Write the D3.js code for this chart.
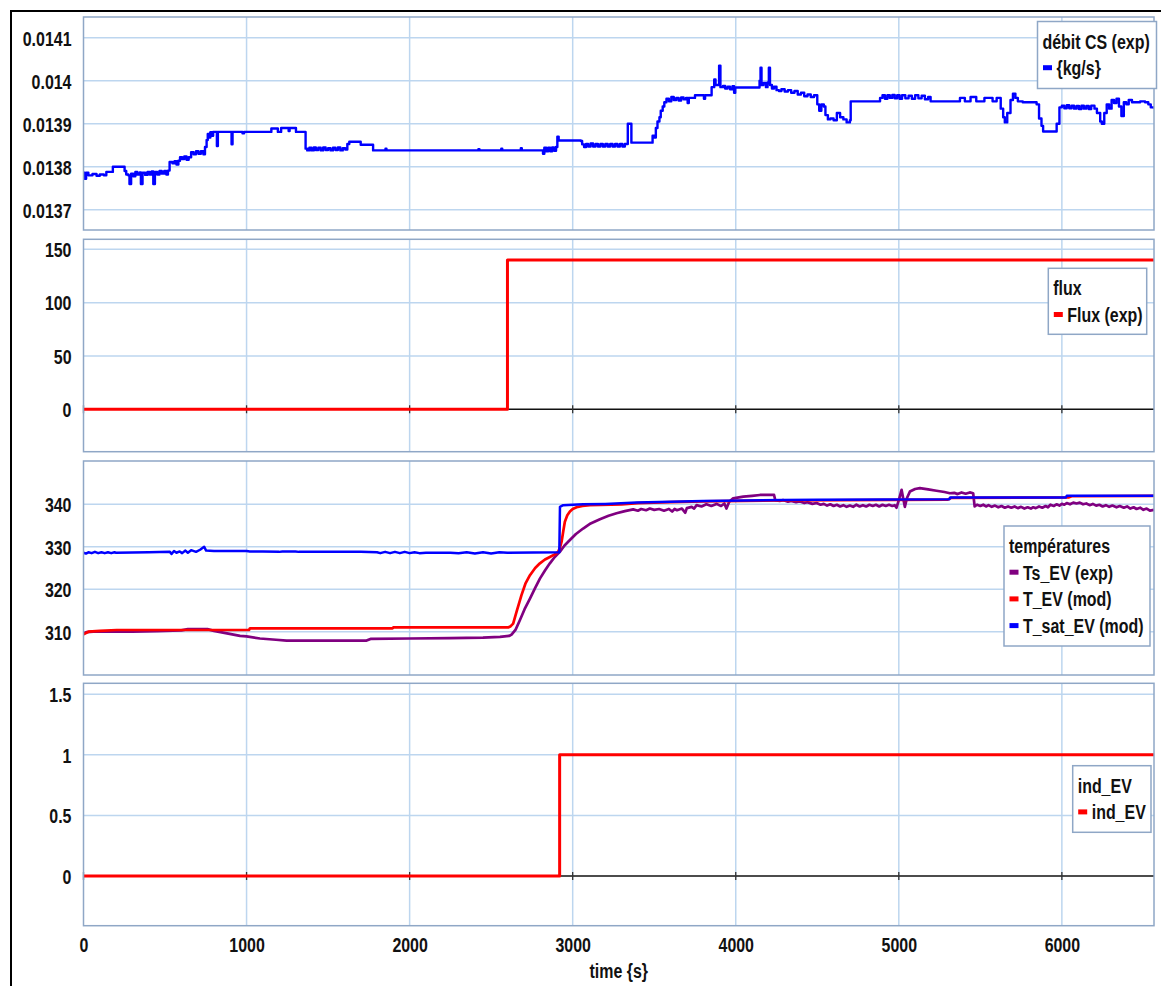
<!DOCTYPE html>
<html>
<head>
<meta charset="utf-8">
<script src="https://cdn.jsdelivr.net/npm/d3@7"></script>
<style>
  body { margin: 0; background: #fff; }
  svg text {
    font-family: "Liberation Sans", Arial, sans-serif;
    font-weight: bold;
    fill: #111;
  }
</style>
</head>
<body>
<svg id="chart" width="1161" height="986"></svg>
<script>
// ---- axis ticks ----
const timeTicks = [0, 1000, 2000, 3000, 4000, 5000, 6000];
const debitTicks = [0.0137, 0.0138, 0.0139, 0.014, 0.0141];
const fluxTicks = [0, 50, 100, 150];
const tempTicks = [310, 320, 330, 340];
const indTicks = [0, 0.5, 1, 1.5];

// ---- series: [time (s), value] ----
const debitCS = [
  [0,0.013786],[8,0.013772],[16,0.013786],[30,0.013780],[55,0.013783],[80,0.013779],[100,0.013782],[125,0.013780],
  [140,0.013788],[175,0.013788],[180,0.013800],[245,0.013800],[252,0.013790],[262,0.013782],[275,0.013780],[282,0.013760],
  [292,0.013784],[305,0.013778],[318,0.013788],[330,0.013782],[345,0.013787],[352,0.013760],[362,0.013786],[378,0.013781],
  [392,0.013788],[405,0.013782],[418,0.013789],[428,0.013760],[438,0.013788],[452,0.013782],[466,0.013790],[480,0.013784],
  [495,0.013790],[508,0.013782],[518,0.013791],[528,0.013811],[545,0.013808],[558,0.013813],[570,0.013805],[582,0.013814],
  [592,0.013822],[605,0.013818],[618,0.013824],[632,0.013816],[645,0.013822],[660,0.013834],[675,0.013829],[690,0.013836],
  [705,0.013830],[720,0.013836],[735,0.013829],[745,0.013846],[755,0.013862],[762,0.013876],[770,0.013868],[778,0.013880],
  [788,0.013872],[795,0.013881],[815,0.013881],[818,0.013848],[824,0.013881],[905,0.013881],[908,0.013852],[914,0.013881],
  [975,0.013878],[985,0.013881],[1150,0.013881],[1152,0.013889],[1188,0.013889],[1192,0.013881],[1208,0.013881],[1212,0.013890],
  [1255,0.013890],[1258,0.013883],[1264,0.013890],[1300,0.013890],[1303,0.013881],[1355,0.013881],[1362,0.013842],[1372,0.013838],
  [1385,0.013844],[1398,0.013838],[1412,0.013845],[1425,0.013839],[1440,0.013844],[1455,0.013838],[1470,0.013845],[1485,0.013839],
  [1500,0.013843],[1515,0.013838],[1530,0.013844],[1545,0.013839],[1560,0.013845],[1575,0.013838],[1590,0.013843],[1605,0.013840],
  [1618,0.013853],[1630,0.013858],[1690,0.013858],[1700,0.013851],[1770,0.013851],[1776,0.013838],[1850,0.013838],[1852,0.013842],
  [1858,0.013838],[2420,0.013838],[2422,0.013841],[2428,0.013838],[2560,0.013838],[2562,0.013842],[2568,0.013838],[2680,0.013838],
  [2682,0.013843],[2688,0.013838],[2810,0.013838],[2818,0.013830],[2826,0.013844],[2838,0.013836],[2850,0.013844],[2862,0.013836],
  [2874,0.013845],[2886,0.013837],[2898,0.013846],[2906,0.013870],[2914,0.013861],[3050,0.013860],[3058,0.013852],[3070,0.013846],
  [3082,0.013853],[3095,0.013847],[3110,0.013854],[3125,0.013847],[3140,0.013853],[3155,0.013847],[3170,0.013853],[3185,0.013847],
  [3200,0.013853],[3215,0.013847],[3230,0.013853],[3245,0.013847],[3260,0.013853],[3275,0.013847],[3290,0.013853],[3305,0.013847],
  [3320,0.013853],[3338,0.013900],[3360,0.013856],[3480,0.013856],[3490,0.013872],[3500,0.013868],[3510,0.013890],[3520,0.013905],
  [3532,0.013915],[3540,0.013930],[3552,0.013940],[3562,0.013950],[3575,0.013958],[3590,0.013952],[3605,0.013962],[3620,0.013955],
  [3635,0.013960],[3650,0.013954],[3665,0.013961],[3680,0.013957],[3695,0.013960],[3705,0.013948],[3712,0.013960],[3750,0.013966],
  [3800,0.013966],[3805,0.013958],[3812,0.013966],[3852,0.013985],[3868,0.014003],[3876,0.013990],[3898,0.014035],[3906,0.013985],
  [3922,0.013988],[3935,0.013982],[3950,0.013986],[3965,0.013980],[3980,0.013987],[3990,0.013972],[3997,0.013984],[4140,0.013984],
  [4146,0.014000],[4152,0.014030],[4158,0.013990],[4170,0.013995],[4185,0.013985],[4195,0.013996],[4203,0.014030],[4210,0.013990],
  [4222,0.013982],[4235,0.013986],[4250,0.013978],[4265,0.013976],[4280,0.013980],[4300,0.013975],[4320,0.013978],[4340,0.013972],
  [4360,0.013976],[4380,0.013968],[4400,0.013972],[4420,0.013964],[4440,0.013968],[4460,0.013962],[4480,0.013966],[4500,0.013945],
  [4512,0.013930],[4525,0.013945],[4540,0.013940],[4550,0.013920],[4565,0.013910],[4580,0.013912],[4600,0.013908],[4620,0.013925],
  [4640,0.013915],[4660,0.013910],[4680,0.013903],[4700,0.013908],[4705,0.013952],[4880,0.013952],[4885,0.013960],[4900,0.013966],
  [4915,0.013958],[4930,0.013966],[4945,0.013960],[4960,0.013967],[4975,0.013959],[4990,0.013966],[5005,0.013958],[5020,0.013966],
  [5040,0.013959],[5060,0.013965],[5080,0.013958],[5100,0.013966],[5120,0.013959],[5140,0.013965],[5160,0.013957],[5180,0.013962],
  [5195,0.013952],[5370,0.013952],[5375,0.013960],[5400,0.013960],[5405,0.013952],[5430,0.013952],[5440,0.013962],[5465,0.013962],
  [5475,0.013952],[5525,0.013960],[5560,0.013960],[5575,0.013952],[5600,0.013960],[5625,0.013935],[5640,0.013915],[5650,0.013903],
  [5665,0.013925],[5685,0.013955],[5700,0.013970],[5715,0.013960],[5730,0.013952],[5760,0.013950],[5845,0.013945],[5860,0.013912],
  [5875,0.013895],[5885,0.013882],[5960,0.013882],[5968,0.013900],[5985,0.013938],[6000,0.013942],[6015,0.013936],[6030,0.013943],
  [6045,0.013936],[6060,0.013942],[6075,0.013935],[6090,0.013941],[6105,0.013934],[6120,0.013942],[6135,0.013935],[6150,0.013941],
  [6165,0.013934],[6180,0.013942],[6200,0.013935],[6215,0.013925],[6235,0.013905],[6245,0.013900],[6260,0.013925],[6275,0.013945],
  [6290,0.013935],[6305,0.013955],[6320,0.013948],[6335,0.013958],[6350,0.013940],[6365,0.013918],[6380,0.013950],[6395,0.013945],
  [6410,0.013955],[6430,0.013950],[6480,0.013952],[6510,0.013950],[6530,0.013945],[6545,0.013938],[6565,0.013935]
];

const fluxExp = [[0, 0], [2600, 0], [2600, 140], [6565, 140]];

const tsEV = [
  [0,309.6],[20,309.9],[60,310.0],[150,310.0],[300,310.0],[450,310.1],[600,310.3],[640,310.6],[760,310.6],[800,310.2],
  [880,309.6],[960,309.0],[1000,308.9],[1082,308.4],[1180,308.1],[1246,307.9],[1500,307.9],[1736,307.9],[1760,308.3],
  [2000,308.4],[2247,308.5],[2450,308.6],[2554,308.8],[2610,309.0],[2625,309.3],[2650,310.5],[2676,312.7],[2705,315.3],
  [2738,317.8],[2770,320.3],[2799,322.5],[2830,324.4],[2860,326.1],[2890,327.6],[2921,328.8],[2950,330.3],[2983,331.6],
  [3020,333.0],[3064,334.3],[3110,335.5],[3167,336.5],[3220,337.3],[3269,337.9],[3320,338.4],[3371,338.8],[3400,338.5],
  [3420,338.9],[3450,338.6],[3473,339.0],[3500,338.7],[3530,338.9],[3560,338.5],[3590,338.9],[3610,338.3],[3625,338.9],
  [3640,338.6],[3670,339.0],[3690,338.0],[3700,339.1],[3730,339.4],[3745,339.0],[3760,339.8],[3790,339.5],[3820,340.0],
  [3850,339.6],[3882,340.1],[3910,339.6],[3930,340.2],[3943,339.0],[3960,340.6],[3984,341.4],[4046,341.8],[4100,342.0],
  [4148,342.2],[4235,342.2],[4242,341.0],[4270,340.8],[4290,341.0],[4320,340.6],[4340,340.8],[4370,340.5],[4390,340.7],
  [4420,340.3],[4440,340.5],[4470,340.1],[4496,340.3],[4520,339.9],[4540,340.1],[4560,339.7],[4580,340.0],[4600,339.6],
  [4620,339.9],[4640,339.5],[4660,339.8],[4680,339.4],[4700,339.7],[4720,339.4],[4740,339.9],[4760,339.5],[4780,339.8],
  [4800,339.5],[4820,339.9],[4840,339.6],[4860,339.9],[4880,339.5],[4900,339.9],[4920,339.6],[4940,339.9],[4960,339.6],
  [4975,339.8],[4986,339.2],[5000,341.0],[5017,343.4],[5028,341.2],[5037,339.4],[5050,341.5],[5068,343.0],[5100,343.6],
  [5129,343.8],[5180,343.5],[5231,343.2],[5280,342.9],[5313,342.6],[5340,342.7],[5360,342.4],[5385,342.8],[5410,342.5],
  [5435,342.8],[5456,342.6],[5465,339.5],[5480,339.9],[5500,339.6],[5518,339.9],[5535,339.5],[5550,339.8],[5570,339.4],
  [5590,339.7],[5610,339.3],[5630,339.6],[5650,339.2],[5670,339.5],[5690,339.2],[5710,339.5],[5730,339.1],[5750,339.4],
  [5770,339.0],[5790,339.3],[5810,339.0],[5824,339.3],[5840,339.1],[5860,339.5],[5880,339.2],[5900,339.6],[5915,339.3],
  [5930,339.9],[5950,339.6],[5967,340.0],[5985,339.7],[6000,340.1],[6015,339.9],[6030,340.3],[6050,340.0],[6070,340.4],
  [6090,340.2],[6110,340.4],[6130,340.0],[6150,340.2],[6170,339.8],[6190,340.1],[6210,339.7],[6230,339.9],[6250,339.5],
  [6270,339.8],[6290,339.4],[6310,339.7],[6335,339.3],[6355,339.6],[6380,339.2],[6400,339.5],[6420,339.0],[6440,339.3],
  [6458,338.9],[6480,339.2],[6500,338.7],[6520,339.0],[6540,338.5],[6565,338.7]
];

const tEV = [
  [0,309.4],[30,310.0],[100,310.2],[204,310.4],[1015,310.4],[1021,310.8],[1895,310.8],[1900,311.0],[2604,311.0],
  [2620,311.3],[2635,311.9],[2656,314.7],[2686,318.6],[2710,321.3],[2738,323.3],[2770,325.0],[2799,326.1],[2830,327.0],
  [2860,327.6],[2890,328.2],[2911,328.8],[2922,329.8],[2932,331.2],[2942,333.6],[2952,335.9],[2967,337.4],[2983,338.3],
  [3000,338.9],[3024,339.3],[3060,339.6],[3106,339.8],[3300,340.0],[3400,340.3],[3600,340.5],[3800,340.7],[4300,340.9],
  [5300,341.1],[5320,341.5],[6040,341.6],[6060,341.9],[6565,342.0]
];

const tSatEV = [
  [0,328.6],[15,328.4],[30,328.7],[50,328.5],[70,328.8],[90,328.5],[110,328.7],[130,328.5],[150,328.7],[170,328.5],
  [190,328.7],[200,328.6],[400,328.7],[530,328.8],[540,328.3],[555,329.0],[570,328.6],[590,328.9],[605,328.5],[625,329.1],
  [640,328.6],[660,329.2],[690,328.8],[715,329.3],[740,330.0],[752,329.1],[800,329.0],[1000,329.0],[1020,328.9],[1100,328.9],
  [1200,328.8],[1220,328.9],[1300,328.9],[1320,328.8],[1700,328.8],[1800,328.7],[1820,328.5],[1850,328.8],[1880,328.5],
  [1910,328.8],[1940,328.5],[1970,328.8],[2000,328.5],[2030,328.7],[2060,328.5],[2100,328.6],[2250,328.6],[2300,328.5],
  [2350,328.7],[2400,328.4],[2450,328.7],[2500,328.4],[2550,328.7],[2600,328.6],[2918,328.7],[2922,339.4],[2942,339.8],
  [3064,340.0],[3200,340.1],[3392,340.4],[3600,340.6],[3800,340.8],[4291,341.0],[4500,341.1],[5310,341.2],[5315,341.6],
  [6025,341.6],[6030,342.0],[6565,342.0]
];

const indEV = [[0, 0], [2920, 0], [2920, 1], [6565, 1]];

// ---- layout ----
const svg = d3.select("#chart");
const plotLeft = 83.5, plotRight = 1154;
const x = d3.scaleLinear().domain([0, 6565]).range([plotLeft, plotRight]);

const gridColor = "#bdd6ef";
const frameColor = "#8fa7c6";
const FONT = 21, SQUEEZE = 0.76;

// condensed bold lettering: squeeze each text horizontally around its anchor
function narrow(sel) {
  sel.each(function () {
    const t = d3.select(this);
    const tx = +t.attr("x") || 0, ty = +t.attr("y") || 0;
    t.attr("x", 0).attr("y", 0)
     .attr("transform", `translate(${tx},${ty}) scale(${SQUEEZE},1)`);
  });
}

const panels = [
  { id: "debit", top: 17, bottom: 230, domain: [0.013653, 0.014148], ticks: debitTicks,
    fmt: d => d3.format(".4~f")(d), zeroLine: false,
    series: [{ data: debitCS, color: "#0000ff", width: 2.4, curve: d3.curveStepAfter }],
    legend: { x: 1037.5, y: 21.5, w: 119, h: 67, title: "débit CS (exp)",
      items: [{ label: "{kg/s}", color: "#0000ff" }] } },
  { id: "flux", top: 239.3, bottom: 451.7, domain: [-39.8, 159.4], ticks: fluxTicks,
    fmt: d3.format("d"), zeroLine: true,
    series: [{ data: fluxExp, color: "#ff0000", width: 3, curve: d3.curveLinear }],
    legend: { x: 1048.3, y: 268.3, w: 98.4, h: 66, title: "flux",
      items: [{ label: "Flux (exp)", color: "#ff0000" }] } },
  { id: "temp", top: 461, bottom: 675, domain: [299.8, 350.2], ticks: tempTicks,
    fmt: d3.format("d"), zeroLine: false,
    series: [
      { data: tsEV, color: "#800080", width: 2.7, curve: d3.curveLinear },
      { data: tEV, color: "#ff0000", width: 2.7, curve: d3.curveLinear },
      { data: tSatEV, color: "#0000ff", width: 2.5, curve: d3.curveLinear }
    ],
    legend: { x: 1004, y: 526, w: 146, h: 120, title: "températures",
      items: [
        { label: "Ts_EV (exp)", color: "#800080" },
        { label: "T_EV (mod)", color: "#ff0000" },
        { label: "T_sat_EV (mod)", color: "#0000ff" }
      ] } },
  { id: "ind", top: 683.3, bottom: 925.7, domain: [-0.41, 1.59], ticks: indTicks,
    fmt: d => String(d), zeroLine: true,
    series: [{ data: indEV, color: "#ff0000", width: 3, curve: d3.curveLinear }],
    legend: { x: 1072.7, y: 765.7, w: 78.3, h: 66.6, title: "ind_EV",
      items: [{ label: "ind_EV", color: "#ff0000" }] } }
];

// outer frame (left and top edges)
svg.append("path")
  .attr("d", "M11,986 V11 H1161")
  .attr("fill", "none").attr("stroke", "#000").attr("stroke-width", 2);

panels.forEach((p, i) => {
  const y = d3.scaleLinear().domain(p.domain).range([p.bottom, p.top]);
  const g = svg.append("g").attr("class", "panel-" + p.id);

  g.append("clipPath").attr("id", "clip-" + p.id)
    .append("rect")
    .attr("x", plotLeft).attr("y", p.top)
    .attr("width", plotRight - plotLeft).attr("height", p.bottom - p.top);

  // grid
  g.append("g").selectAll("line")
    .data(p.ticks.filter(t => !(p.zeroLine && t === 0)))
    .join("line")
    .attr("x1", plotLeft).attr("x2", plotRight)
    .attr("y1", d => y(d)).attr("y2", d => y(d))
    .attr("stroke", gridColor).attr("stroke-width", 1.5);
  g.append("g").selectAll("line")
    .data(timeTicks.filter(t => t > 0))
    .join("line")
    .attr("x1", d => x(d)).attr("x2", d => x(d))
    .attr("y1", p.top).attr("y2", p.bottom)
    .attr("stroke", gridColor).attr("stroke-width", 1.5);

  // zero axis with ticks
  if (p.zeroLine) {
    const y0 = y(0);
    g.append("line")
      .attr("x1", plotLeft).attr("x2", plotRight)
      .attr("y1", y0).attr("y2", y0)
      .attr("stroke", "#111").attr("stroke-width", 1.3);
    g.append("g").selectAll("line")
      .data(timeTicks)
      .join("line")
      .attr("x1", d => x(d)).attr("x2", d => x(d))
      .attr("y1", y0 - 4).attr("y2", y0 + 4)
      .attr("stroke", "#333").attr("stroke-width", 1.3);
  }

  // y axis labels
  const ay = g.append("g")
    .attr("transform", `translate(${plotLeft},0)`)
    .call(d3.axisLeft(y).tickValues(p.ticks).tickFormat(p.fmt).tickSize(0).tickPadding(12));
  ay.select(".domain").remove();
  ay.attr("font-family", null).attr("font-size", null);
  ay.selectAll("text").attr("font-size", FONT).attr("dy", "0.35em").attr("fill", "#111").call(narrow);

  // series
  const plot = g.append("g").attr("clip-path", `url(#clip-${p.id})`);
  p.series.forEach(s => {
    plot.append("path")
      .datum(s.data)
      .attr("fill", "none")
      .attr("stroke", s.color)
      .attr("stroke-width", s.width)
      .attr("stroke-linejoin", "round")
      .attr("d", d3.line().x(d => x(d[0])).y(d => y(d[1])).curve(s.curve));
  });

  // frame
  g.append("rect")
    .attr("x", plotLeft).attr("y", p.top)
    .attr("width", plotRight - plotLeft).attr("height", p.bottom - p.top)
    .attr("fill", "none").attr("stroke", frameColor).attr("stroke-width", 1.5);

  // legend
  const L = p.legend;
  const lg = g.append("g").attr("transform", `translate(${L.x},${L.y})`);
  lg.append("rect").attr("width", L.w).attr("height", L.h)
    .attr("fill", "#fff").attr("stroke", frameColor).attr("stroke-width", 1.5);
  lg.append("text").attr("x", 5).attr("y", 27).attr("font-size", FONT).text(L.title).call(narrow);
  L.items.forEach((it, k) => {
    const by = 27 + 26.7 * (k + 1);
    lg.append("rect").attr("x", 5.5).attr("y", by - 10).attr("width", 9).attr("height", 5)
      .attr("fill", it.color);
    lg.append("text").attr("x", 19).attr("y", by).attr("font-size", FONT).text(it.label).call(narrow);
  });

  // bottom time axis on the last panel
  if (i === panels.length - 1) {
    const ax = svg.append("g")
      .attr("transform", `translate(0,${p.bottom})`)
      .call(d3.axisBottom(x).tickValues(timeTicks).tickFormat(d3.format("d")).tickSize(0).tickPadding(11.5));
    ax.select(".domain").remove();
    ax.attr("font-family", null).attr("font-size", null);
    ax.selectAll("text").attr("font-size", FONT).attr("fill", "#111").call(narrow);
    svg.append("text")
      .attr("x", (plotLeft + plotRight) / 2).attr("y", 978)
      .attr("text-anchor", "middle").attr("font-size", FONT)
      .text("time {s}").call(narrow);
  }
});
</script>
</body>
</html>
